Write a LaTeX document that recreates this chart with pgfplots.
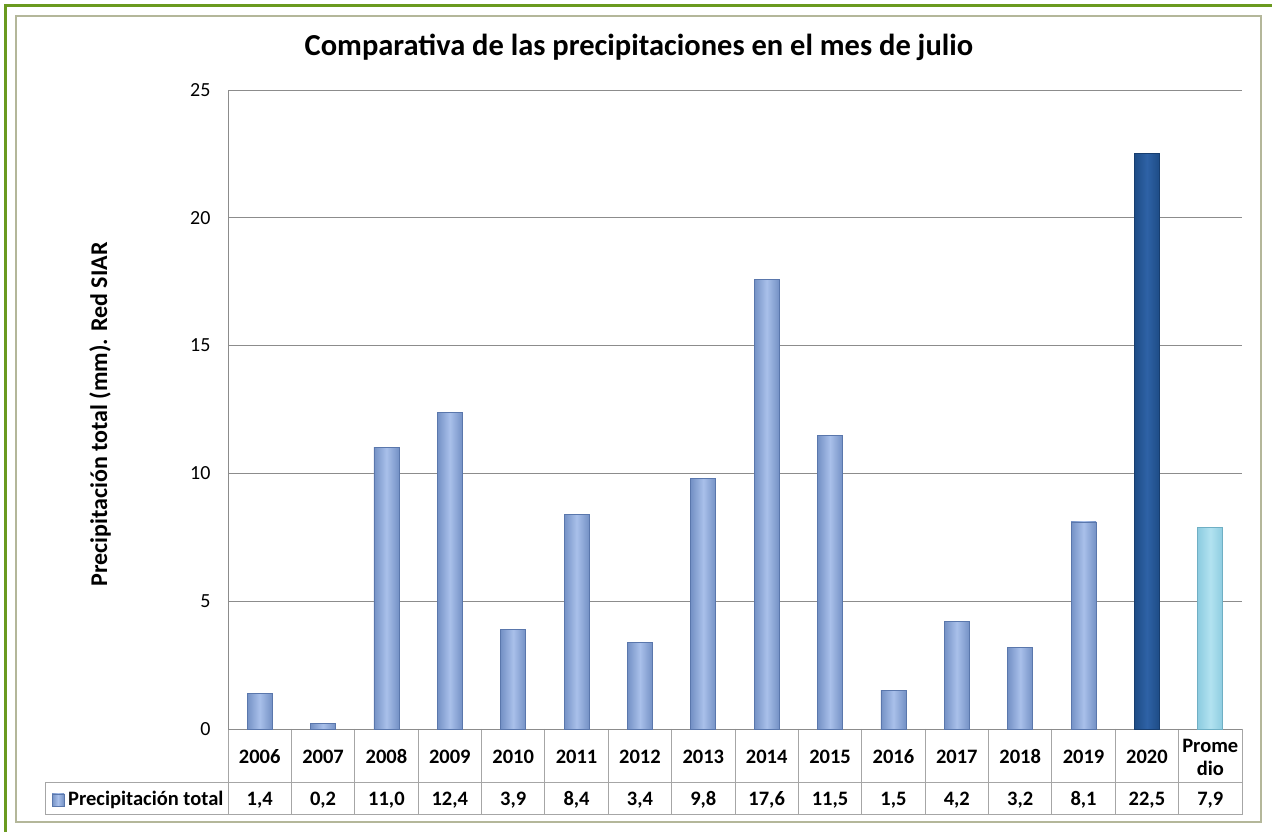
\documentclass[border=0pt]{standalone}
\usepackage{pgfplots}
\pgfplotsset{compat=1.18}
\usepackage{pgfplotstable}
\usepackage{fontspec}
\setmainfont{Carlito}
\definecolor{gridgray}{HTML}{8C8C8C}
\definecolor{tabgray}{HTML}{A6A6A6}
\definecolor{framegreen}{HTML}{6A9A1F}
\definecolor{frameolive}{HTML}{B4B79A}
\definecolor{bedge}{HTML}{5A77AC}
\definecolor{bside}{HTML}{7491C5}
\definecolor{bmid}{HTML}{A9C0EA}
\definecolor{dedge}{HTML}{173E70}
\definecolor{dside}{HTML}{1E4C86}
\definecolor{dmid}{HTML}{2E62A6}
\definecolor{ledge}{HTML}{6FAFC4}
\definecolor{lside}{HTML}{8DCCE0}
\definecolor{lmid}{HTML}{B2E2F0}
\pgfplotstableread{
x y lab
0 1.4 1,4
1 0.2 0,2
2 11.0 11,0
3 12.4 12,4
4 3.9 3,9
5 8.4 8,4
6 3.4 3,4
7 9.8 9,8
8 17.6 17,6
9 11.5 11,5
10 1.5 1,5
11 4.2 4,2
12 3.2 3,2
13 8.1 8,1
14 22.5 22,5
15 7.9 7,9
}\datatable
\begin{document}
\begin{tikzpicture}[x=1pt,y=1pt]
\useasboundingbox (0,0) rectangle (1272,832);
\fill[white] (0,0) rectangle (1272,832);
% frames
\draw[framegreen, line width=3pt] (5,0) -- (5,826.5) -- (1272,826.5);
\draw[frameolive, line width=1.5pt] (16,10) rectangle (1261,816);
% data table grid
\foreach \k in {0,...,16} {
  \draw[tabgray, line width=1pt] ({228+63.375*\k},103) -- ({228+63.375*\k},17);
}
\draw[tabgray, line width=1pt] (45,49) -- (1242,49);
\draw[tabgray, line width=1pt] (45,17) -- (1242,17);
\draw[tabgray, line width=1pt] (45,49) -- (45,17);
% legend key in table
\draw[bedge, line width=0.6pt, left color=bside, right color=bside, middle color=bmid] (52,26) rectangle (64,38);
\node[anchor=west, inner sep=0pt, font=\fontsize{20.5}{24}\selectfont\bfseries] at (68,32) {Precipitación total};
\begin{axis}[
  at={(228pt,103pt)}, anchor=south west,
  width=1014pt, height=639pt, scale only axis,
  xmin=-0.5, xmax=15.5, ymin=0, ymax=25,
  ybar, bar width=25pt,
  clip=false,
  axis lines*=left,
  axis line style={gridgray, line width=0.8pt},
  ymajorgrids, grid style={gridgray, line width=0.8pt},
  ytick={0,5,10,15,20,25},
  xtick={0,...,15},
  xticklabels={2006,2007,2008,2009,2010,2011,2012,2013,2014,2015,2016,2017,2018,2019,2020,{Prome\\dio}},
  major tick length=0pt,
  /pgf/number format/assume math mode=true,
  yticklabel style={anchor=east, xshift=-14pt, font=\fontsize{20}{24}\selectfont},
  xticklabel style={anchor=center, yshift=-28pt, align=center, font=\fontsize{20.5}{23}\selectfont\bfseries},
  ylabel={Precipitación total (mm). Red SIAR},
  ylabel style={at={(axis description cs:-0.1262,0.4922)}, anchor=center, rotate=0, font=\fontsize{24}{28}\selectfont\bfseries},
  title={Comparativa de las precipitaciones en el mes de julio},
  title style={at={(axis description cs:0.4053,1.058)}, anchor=center, font=\fontsize{30.5}{36}\selectfont\bfseries},
]
\pgfplotsinvokeforeach{0,...,13}{
\addplot[bar shift=0pt, draw=bedge, line width=0.8pt, left color=bside, right color=bside, middle color=bmid, restrict x to domain=#1:#1] table[x=x, y=y] {\datatable};
}
\addplot[bar shift=0pt, draw=dedge, line width=0.8pt, left color=dside, right color=dside, middle color=dmid, restrict x to domain=14:14] table[x=x, y=y] {\datatable};
\addplot[bar shift=0pt, draw=ledge, line width=0.8pt, left color=lside, right color=lside, middle color=lmid, restrict x to domain=15:15] table[x=x, y=y] {\datatable};
\addplot[bar shift=0pt, draw=none, fill=none, point meta=explicit symbolic,
  nodes near coords, nodes near coords style={anchor=center, yshift=-71pt, font=\fontsize{20.5}{24}\selectfont\bfseries}]
  table[x=x, y expr=0, meta=lab] {\datatable};
\end{axis}
\end{tikzpicture}
\end{document}
